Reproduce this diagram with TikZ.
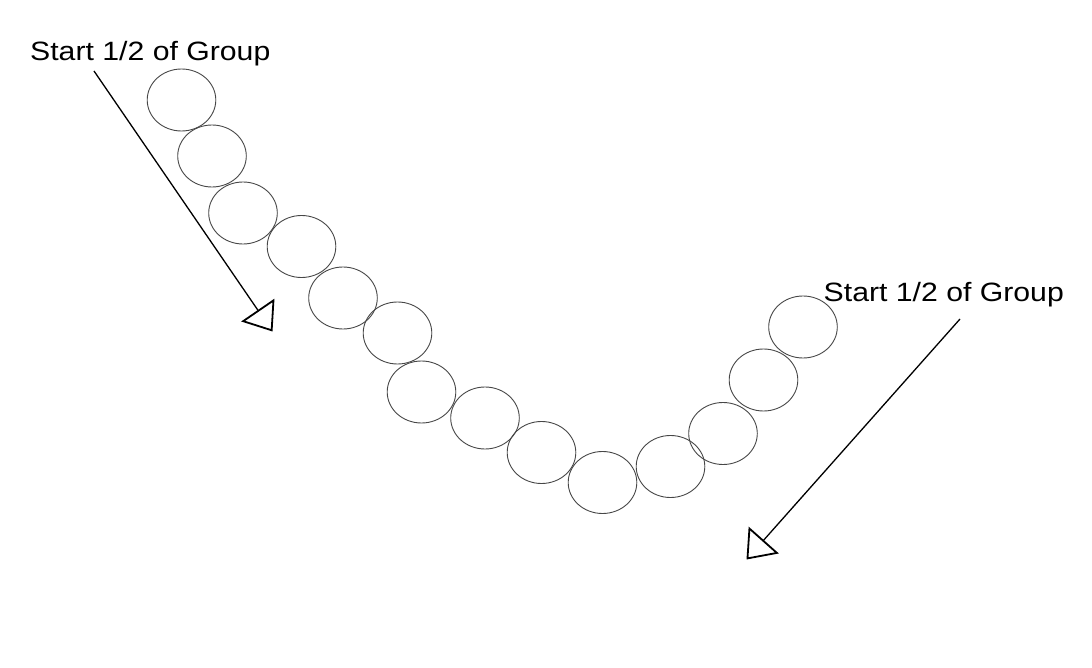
\documentclass[tikz,border=0pt]{standalone}
\usepackage{fontspec}
\newfontfamily\labfont[FakeStretch=1.14]{Liberation Sans}
\usetikzlibrary{shapes.geometric,arrows.meta}
\begin{document}
\begin{tikzpicture}[x=1pt,y=-1pt,
  bead/.style={draw=black!72,line width=0.9pt,ellipse,minimum width=68.6pt,minimum height=62pt,inner sep=0pt},
  lab/.style={anchor=base west,inner sep=0pt,font=\labfont\fontsize{26.5pt}{30pt}\selectfont},
  pointer/.style={draw=black,line width=1.3pt,-{Triangle[open,length=26pt,width=40pt,line width=1.8pt]}}]
\useasboundingbox[fill=white] (0,0) rectangle (1092,668);
\node[bead] (c1) at (181.5,100) {};
\node[bead] (c2) at (212,156) {};
\node[bead] (c3) at (243,213) {};
\node[bead] (c4) at (301.5,246.5) {};
\node[bead] (c5) at (343,298) {};
\node[bead] (c6) at (397.5,333) {};
\node[bead] (c7) at (421.5,392) {};
\node[bead] (c8) at (485,418) {};
\node[bead] (c9) at (541.5,452.5) {};
\node[bead] (c10) at (602.5,482.5) {};
\node[bead] (c11) at (670.5,466.5) {};
\node[bead] (c12) at (723,433.5) {};
\node[bead] (c13) at (763.5,380) {};
\node[bead] (c14) at (803,327) {};
\node[lab] (l1) at (30,60.7) {Start 1/2 of Group};
\node[lab] (l2) at (823.5,301.7) {Start 1/2 of Group};
\coordinate (s1) at (94,71);
\coordinate (e1) at (272.5,331.5);
\coordinate (s2) at (960,319);
\coordinate (e2) at (746.5,559.5);
\draw[pointer] (s1) -- (e1);
\draw[pointer] (s2) -- (e2);
\end{tikzpicture}
\end{document}
